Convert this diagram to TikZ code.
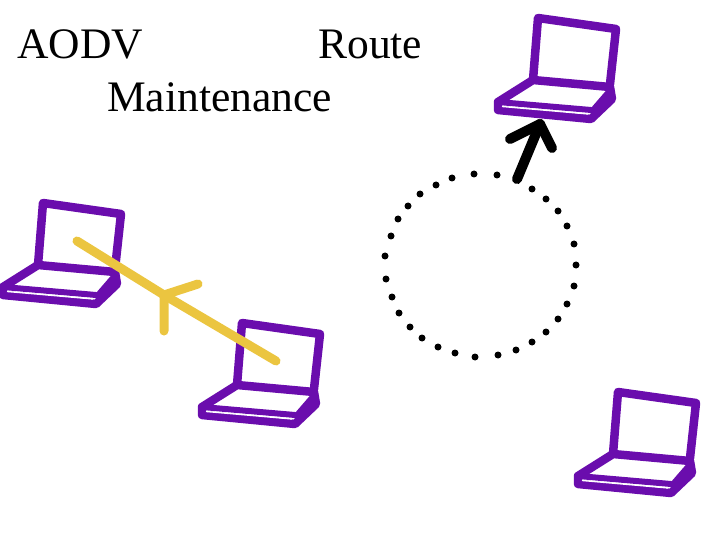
\documentclass[tikz,border=0pt]{standalone}
\usepackage{fontspec}
\setmainfont{Liberation Serif}
\usetikzlibrary{positioning}
\definecolor{laptoppurple}{HTML}{6A0DAD}
\definecolor{linkyellow}{HTML}{EBC540}

\begin{document}
\begin{tikzpicture}[
    x=1bp, y=-1bp,
    every node/.style={inner sep=0pt},
    title/.style={font=\fontsize{43.7}{54}\selectfont, text width=405bp, align=center, anchor=north west},
    laptopline/.style={draw=laptoppurple, line width=8.5bp, line join=round, line cap=round},
    brokenlink/.style={draw=linkyellow, line width=9bp, line cap=round, line join=round},
    movelink/.style={draw=black, line width=10bp, line cap=round, line join=round},
    ringdot/.style={circle, fill=black, minimum size=7bp},
    ring/.style={circle, minimum size=184bp},
    laptop/.pic={
        \coordinate (-screen) at (34,38);
        \coordinate (-front) at (2,106);
        \path[laptopline] (-5,62) -- (0,0) -- (78,11) -- (72,66);
        \path[laptopline] (-5,62) -- (72,69) -- (74,81) -- (53,101) -- (-40,92) -- (-40,84) -- cycle;
        \path[laptopline, line width=6bp] (-40,84) -- (53,92);
        \fill[laptoppurple] (53,90) -- (72,68) -- (77,82) -- (53,105) -- cycle;
        \draw[white, line width=1.3bp] (-36,88.5) -- (50,96);
    }
]
\useasboundingbox (0,0) rectangle (720,540);
\node[title] (heading) at (17,29) {AODV\hspace{\fill}Route\\Maintenance};

\pic (lapa) at (43,203) {laptop};
\pic (lapb) at (242,323) {laptop};
\pic (lapc) at (538,18) {laptop};
\pic (lapd) at (618,392) {laptop};

\node[ring] (oldpos) at (481,264) {};
\foreach \dx/\dy [count=\i] in {497/175,474/174,452/178,436/185,420/194,408/206,398/219,391/236,385/256,386/279,392/297,399/313,410/327,422/338,438/347,455/353,475/357,498/355,516/350,532/342,546/332,558/319,567/304,574/286,576/265,574/244,567/226,558/211,546/199,532/189}
    \node[ringdot] (dot\i) at (\dx,\dy) {};

\coordinate (breaktip) at (164,295);
\coordinate (breakbarba) at (198,284);
\coordinate (breakbarbb) at (164,331);
\draw[brokenlink] (lapb-screen) -- (breaktip) -- (lapa-screen);
\draw[brokenlink] (breakbarba) -- (breaktip) -- (breakbarbb);

\coordinate (movebarba) at (510,139);
\coordinate (movebarbb) at (552,148);
\draw[movelink] (oldpos.67) -- (lapc-front);
\draw[movelink] (movebarba) -- (lapc-front) -- (movebarbb);
\end{tikzpicture}
\end{document}
